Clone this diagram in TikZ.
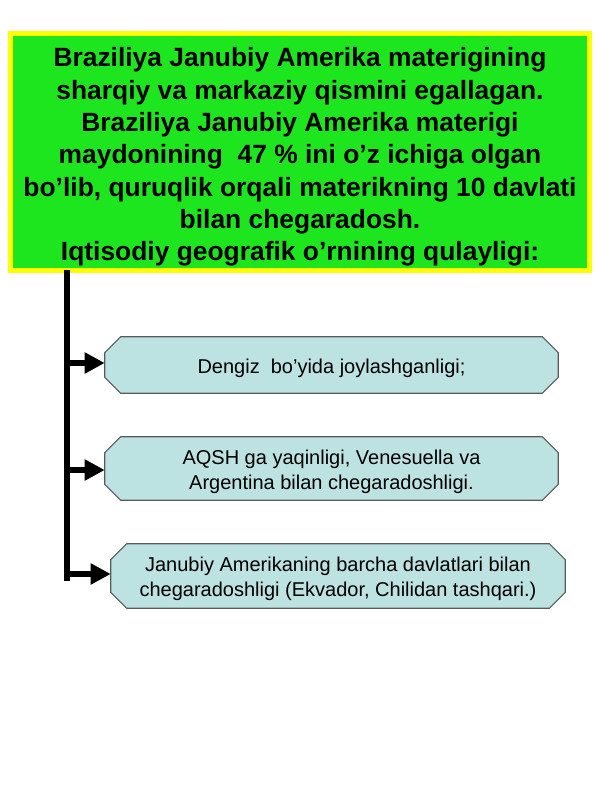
\documentclass[tikz,border=0pt]{standalone}
\usepackage{fontspec}
\setmainfont{Liberation Sans}
\usetikzlibrary{arrows.meta}
\definecolor{titlegreen}{RGB}{30,230,30}
\definecolor{titleyellow}{RGB}{255,255,0}
\definecolor{boxfill}{RGB}{188,226,226}
\definecolor{boxline}{RGB}{90,90,90}
\tikzset{
  titlebox/.style={draw=titleyellow, fill=titlegreen, line width=3.75pt, minimum width=579*0.75pt, minimum height=237*0.75pt, inner sep=0pt},
  titletxt/.style={align=center, font=\fontsize{19.8}{24.2}\selectfont\bfseries, inner sep=0pt},
  itembox/.style={inner sep=0pt, align=center, font=\fontsize{15}{18.8}\selectfont},
  chamfer/.style={draw=boxline, fill=boxfill, line width=0.8pt},
  barline/.style={line width=4.5pt},
  feed/.style={line width=4.5pt, -{Triangle[length=15pt,width=15pt]}},
}
\begin{document}
\begin{tikzpicture}[x=0.75pt,y=-0.75pt]
\useasboundingbox (0,0) rectangle (600,800);
\fill[white] (0,0) rectangle (600,800);
\node[titlebox] (title) at (300,152) {};
\node[titletxt] (titletext) at (300,157) {Braziliya Janubiy Amerika materigining\\
sharqiy va markaziy qismini egallagan.\\
Braziliya Janubiy Amerika materigi\\
maydonining\ \ 47 \% ini o’z ichiga olgan\\
bo’lib, quruqlik orqali materikning 10 davlati\\
bilan chegaradosh.\\
Iqtisodiy geografik o’rnining qulayligi:};
% item boxes (text nodes), outlines drawn as chamfered polygons
\node[itembox, minimum width=453*0.75pt, minimum height=56*0.75pt] (b1) at (331.5,365) {};
\node[itembox, minimum width=453*0.75pt, minimum height=63*0.75pt] (b2) at (331.5,468.5) {};
\node[itembox, minimum width=454*0.75pt, minimum height=64*0.75pt] (b3) at (338,576) {};
\foreach \b in {b1,b2,b3}{
  \draw[chamfer] ([xshift=12pt]\b.north west) -- ([xshift=-12pt]\b.north east)
    -- ([yshift=-12pt]\b.north east) -- ([yshift=12pt]\b.south east)
    -- ([xshift=-12pt]\b.south east) -- ([xshift=12pt]\b.south west)
    -- ([yshift=12pt]\b.south west) -- ([yshift=-12pt]\b.north west) -- cycle;
}
\node[itembox] (t1) at ([yshift=-2.2pt]b1) {Dengiz\ \ bo’yida joylashganligi;};
\node[itembox] (t2) at ([yshift=-2.2pt]b2) {AQSH ga yaqinligi, Venesuella va\\ Argentina bilan chegaradoshligi.};
\node[itembox] (t3) at ([yshift=-2.2pt]b3) {Janubiy Amerikaning barcha davlatlari bilan\\ chegaradoshligi (Ekvador, Chilidan tashqari.)};
% connectors
\coordinate (bartop) at (67,270);
\coordinate (j1) at (67,363);
\coordinate (j2) at (67,470);
\coordinate (j3) at (67,574);
\coordinate (barbot) at (67,581);
\draw[barline] (bartop) -- (barbot);
\draw[feed] ([xshift=-2.2pt]j1) -- (j1 -| b1.west);
\draw[feed] ([xshift=-2.2pt]j2) -- (j2 -| b2.west);
\draw[feed] ([xshift=-2.2pt]j3) -- (j3 -| b3.west);
\end{tikzpicture}
\end{document}
